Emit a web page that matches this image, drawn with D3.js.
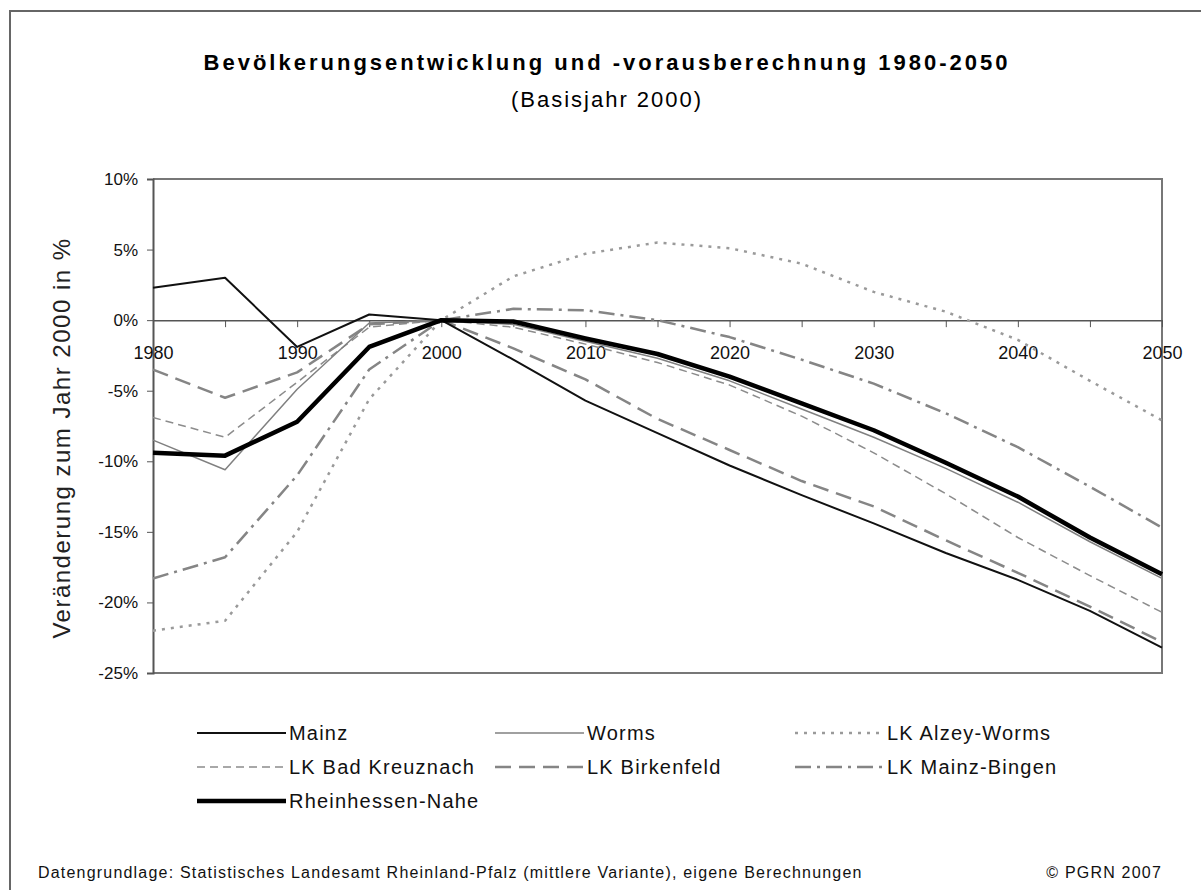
<!DOCTYPE html>
<html>
<head>
<meta charset="utf-8">
<script src="https://cdn.jsdelivr.net/npm/d3@7"></script>
<style>
  body { margin: 0; background: #fff; }
  svg { font-family: "Liberation Sans", Arial, sans-serif; }
</style>
</head>
<body>
<svg width="1201" height="890"></svg>
<script>
// years of the series (5-year steps)
var years = [1980, 1985, 1990, 1995, 2000, 2005, 2010, 2015, 2020, 2025, 2030, 2035, 2040, 2045, 2050]

// change vs. year 2000 in %
var mainz        = [2.3, 3.0, -1.9, 0.4, 0, -2.8, -5.7, -8.0, -10.3, -12.4, -14.4, -16.5, -18.4, -20.6, -23.2]
var worms        = [-8.5, -10.6, -4.9, -0.2, 0, -0.3, -1.5, -2.7, -4.3, -6.3, -8.3, -10.5, -12.9, -15.7, -18.3]
var alzeyWorms   = [-22.0, -21.3, -15.0, -5.6, 0, 3.1, 4.7, 5.5, 5.1, 4.0, 2.0, 0.6, -1.4, -4.3, -7.1]
var badKreuznach = [-6.9, -8.3, -4.4, -0.5, 0, -0.5, -1.7, -3.0, -4.6, -6.8, -9.4, -12.3, -15.4, -18.1, -20.7]
var birkenfeld   = [-3.5, -5.5, -3.7, -0.3, 0, -2.0, -4.2, -7.0, -9.2, -11.4, -13.2, -15.6, -17.9, -20.3, -22.8]
var mainzBingen  = [-18.3, -16.8, -11.0, -3.5, 0, 0.8, 0.7, 0.0, -1.2, -2.8, -4.5, -6.6, -9.0, -11.8, -14.7]
var rheinNahe    = [-9.4, -9.6, -7.2, -1.9, 0, -0.1, -1.3, -2.4, -4.0, -5.9, -7.8, -10.1, -12.5, -15.4, -18.0]

var yTicks = [10, 5, 0, -5, -10, -15, -20, -25]

// series with their line styles, drawn in this order
var series = [
  {name: "LK Alzey-Worms",     values: alzeyWorms,   color: "#9a9a9a", width: 2.5, dash: "3,6"},
  {name: "LK Bad Kreuznach",   values: badKreuznach, color: "#8c8c8c", width: 1.5, dash: "8,5"},
  {name: "LK Birkenfeld",      values: birkenfeld,   color: "#858585", width: 2.5, dash: "16,8"},
  {name: "LK Mainz-Bingen",    values: mainzBingen,  color: "#858585", width: 2.5, dash: "16,6,3,6"},
  {name: "Worms",              values: worms,        color: "#808080", width: 1.5, dash: null},
  {name: "Mainz",              values: mainz,        color: "#111",    width: 2,   dash: null},
  {name: "Rheinhessen-Nahe",   values: rheinNahe,    color: "#000",    width: 4.5, dash: null}
]

// legend order as in the original (3 columns)
var legendOrder = ["Mainz", "Worms", "LK Alzey-Worms", "LK Bad Kreuznach", "LK Birkenfeld", "LK Mainz-Bingen", "Rheinhessen-Nahe"]

var svg = d3.select("svg")

// outer frame
svg.append("rect")
    .attr("x", 10).attr("y", 11).attr("width", 1200).attr("height", 900)
    .attr("fill", "none").attr("stroke", "#666").attr("stroke-width", 2)

var pLeft = 153, pRight = 1162, pTop = 179, pBottom = 673

var x = d3.scaleLinear().domain([1980, 2050]).range([pLeft, pRight])
var y = d3.scaleLinear().domain([-25, 10]).range([pBottom, pTop])

// plot border (top, right, bottom)
svg.append("path")
    .attr("d", "M" + pLeft + "," + pTop + "H" + pRight + "V" + pBottom + "H" + pLeft)
    .attr("fill", "none").attr("stroke", "#777").attr("stroke-width", 2)

// y axis
var yAxis = svg.append("g")
    .attr("transform", "translate(" + pLeft + ",0)")
    .call(d3.axisLeft(y).tickValues(yTicks).tickSize(6).tickPadding(9).tickFormat(function(d) { return d + "%" }))
yAxis.select(".domain").attr("stroke", "#555").attr("stroke-width", 2)
yAxis.selectAll(".tick line").attr("stroke", "#555")
yAxis.selectAll("text").attr("font-size", 17).attr("fill", "#111").attr("font-family", "Liberation Sans, Arial")

// x axis on the zero line
var xAxis = svg.append("g")
    .attr("transform", "translate(0," + y(0) + ")")
    .call(d3.axisBottom(x).tickValues(years).tickSize(7).tickPadding(19).tickSizeOuter(0)
      .tickFormat(function(d) { return d % 10 === 0 ? d : "" }))
xAxis.select(".domain").attr("stroke", "#555").attr("stroke-width", 1.5)
xAxis.selectAll(".tick line").attr("stroke", "#555")
xAxis.selectAll("text").attr("font-size", 18).attr("fill", "#111").attr("font-family", "Liberation Sans, Arial")

// lines
var line = d3.line()
    .x(function(d, i) { return x(years[i]) })
    .y(function(d) { return y(d) })

svg.append("g").selectAll("path")
    .data(series)
    .enter().append("path")
      .attr("d", function(d) { return line(d.values) })
      .attr("fill", "none")
      .attr("stroke", function(d) { return d.color })
      .attr("stroke-width", function(d) { return d.width })
      .attr("stroke-dasharray", function(d) { return d.dash })
      .attr("stroke-linejoin", "round")

// titles
svg.append("text")
    .attr("x", 607).attr("y", 70)
    .attr("text-anchor", "middle")
    .attr("font-size", 22).attr("font-weight", "bold")
    .attr("letter-spacing", 3)
    .text("Bevölkerungsentwicklung und -vorausberechnung 1980-2050")

svg.append("text")
    .attr("x", 607).attr("y", 107)
    .attr("text-anchor", "middle")
    .attr("font-size", 22)
    .attr("letter-spacing", 2)
    .text("(Basisjahr 2000)")

// y axis title
svg.append("text")
    .attr("transform", "translate(70,438) rotate(-90)")
    .attr("text-anchor", "middle")
    .attr("font-size", 24)
    .attr("letter-spacing", 1.5)
    .attr("fill", "#222")
    .text("Veränderung zum Jahr 2000 in %")

// legend
var byName = {}
series.forEach(function(s) { byName[s.name] = s })
var colX = [197, 495, 795], rowY = [733, 767, 801]

var legend = svg.append("g").selectAll("g")
    .data(legendOrder.map(function(n) { return byName[n] }))
    .enter().append("g")
      .attr("transform", function(d, i) { return "translate(" + colX[i % 3] + "," + rowY[Math.floor(i / 3)] + ")" })

legend.append("line")
    .attr("x1", 0).attr("x2", 89).attr("y1", 0).attr("y2", 0)
    .attr("stroke", function(d) { return d.color })
    .attr("stroke-width", function(d) { return d.width })
    .attr("stroke-dasharray", function(d) { return d.dash })

legend.append("text")
    .attr("x", 92).attr("y", 7)
    .attr("font-size", 20)
    .attr("letter-spacing", 1.2)
    .attr("fill", "#111")
    .text(function(d) { return d.name })

// footer
svg.append("text")
    .attr("x", 38).attr("y", 878)
    .attr("font-size", 16)
    .attr("letter-spacing", 1.2)
    .attr("fill", "#111")
    .text("Datengrundlage: Statistisches Landesamt Rheinland-Pfalz (mittlere Variante), eigene Berechnungen")

svg.append("text")
    .attr("x", 1162).attr("y", 878)
    .attr("text-anchor", "end")
    .attr("font-size", 16)
    .attr("letter-spacing", 1.2)
    .attr("fill", "#111")
    .text("© PGRN 2007")
</script>
</body>
</html>
